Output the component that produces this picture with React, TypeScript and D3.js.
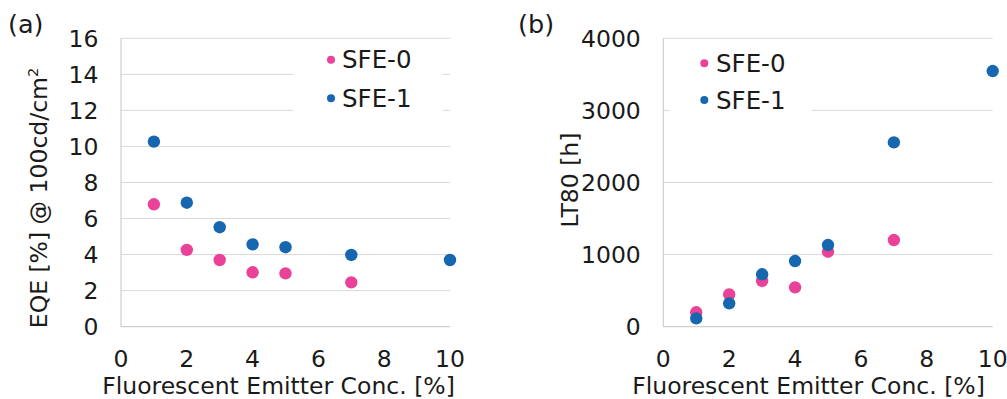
import React from "react";
import * as d3 from "d3";

const conc = [1, 2, 3, 4, 5, 7, 10];
const eqeSFE0 = [6.79, 4.26, 3.7, 3.02, 2.96, 2.46];
const eqeSFE1 = [10.27, 6.88, 5.52, 4.57, 4.41, 3.98, 3.7];
const ltSFE0 = [200, 449, 634, 546, 1040, 1202];
const ltSFE1 = [116, 324, 727, 911, 1133, 2557, 3546];
const xTicks = [0, 2, 4, 6, 8, 10];
const eqeTicks = [0, 2, 4, 6, 8, 10, 12, 14, 16];
const ltTicks = [0, 1000, 2000, 3000, 4000];
const seriesNames = ["SFE-0", "SFE-1"];

const PINK = "#EA4199";
const BLUE = "#1766B0";
const TEXT = "#1a1a1a";
const GRID = "#d9d9d9";
const AXIS = "#cfcfcf";
const FONT = "'DejaVu Sans', Verdana, sans-serif";
const FS = 23.5;
const FS_LEG = 24.5;

type PanelProps = {
  left: number;
  right: number;
  yMax: number;
  yTicks: number[];
  s0: number[];
  s1: number[];
  yTitle: React.ReactNode;
  yTitleX: number;
  yTitleY: number;
  xTitleX: number;
  label: string;
  labelX: number;
  legend: { x0: number; x1: number; y0: number; y1: number; mx: number; tx: number; b0: number; b1: number };
};

function Panel(p: PanelProps) {
  const top = 38.3;
  const bottom = 326.7;
  const x = d3.scaleLinear().domain([0, 10]).range([p.left, p.right]);
  const y = d3.scaleLinear().domain([0, p.yMax]).range([bottom, top]);
  return (
    <g>
      <text x={p.labelX} y={33} fontSize={25.5} fill={TEXT} fontFamily={FONT}>{p.label}</text>
      {p.yTicks.filter((t) => t > 0).map((t) => (
        <line key={"g" + t} x1={x(0)} x2={x(10)} y1={y(t)} y2={y(t)} stroke={GRID} strokeWidth={1} />
      ))}
      <line x1={x(0)} x2={x(10)} y1={y(0)} y2={y(0)} stroke={AXIS} strokeWidth={1.2} />
      <line x1={x(0)} x2={x(0)} y1={y(0)} y2={y(p.yMax)} stroke={AXIS} strokeWidth={1.2} />
      <rect x={p.legend.x0} y={p.legend.y0} width={p.legend.x1 - p.legend.x0} height={p.legend.y1 - p.legend.y0} fill="#fff" />
      {p.yTicks.map((t) => (
        <text key={"yt" + t} x={x(0) - 22.5} y={y(t)} dy="0.36em" textAnchor="end" fontSize={FS} fill={TEXT} fontFamily={FONT}>{t}</text>
      ))}
      {xTicks.map((t) => (
        <text key={"xt" + t} x={x(t)} y={367} textAnchor="middle" fontSize={FS} fill={TEXT} fontFamily={FONT}>{t}</text>
      ))}
      <text x={p.xTitleX} y={393.5} textAnchor="middle" fontSize={FS} fill={TEXT} fontFamily={FONT}>Fluorescent Emitter Conc. [%]</text>
      <text transform={`translate(${p.yTitleX},${p.yTitleY}) rotate(-90)`} textAnchor="middle" fontSize={FS} fill={TEXT} fontFamily={FONT}>{p.yTitle}</text>
      {p.s0.map((v, i) => (
        <circle key={"a" + i} cx={x(conc[i])} cy={y(v)} r={6.2} fill={PINK} />
      ))}
      {p.s1.map((v, i) => (
        <circle key={"b" + i} cx={x(conc[i])} cy={y(v)} r={6.2} fill={BLUE} />
      ))}
      {seriesNames.map((n, i) => (
        <g key={n}>
          <circle cx={p.legend.mx} cy={(i === 0 ? p.legend.b0 : p.legend.b1) - 8.5} r={4} fill={i === 0 ? PINK : BLUE} />
          <text x={p.legend.tx} y={i === 0 ? p.legend.b0 : p.legend.b1} fontSize={FS_LEG} fill={TEXT} fontFamily={FONT}>{n}</text>
        </g>
      ))}
    </g>
  );
}

export default function App() {
  return (
    <svg width={1007} height={399} style={{ position: "absolute", left: 0, top: 0, background: "#fff" }}>
      <rect width={1007} height={399} fill="#fff" />
      <Panel
        left={121}
        right={450}
        yMax={16}
        yTicks={eqeTicks}
        s0={eqeSFE0}
        s1={eqeSFE1}
        yTitle={<>EQE [%] @ 100cd/cm<tspan fontSize={14.5} dy={-9.5}>2</tspan></>}
        yTitleX={47}
        yTitleY={198}
        xTitleX={278.5}
        label="(a)"
        labelX={8}
        legend={{ x0: 293, x1: 443, y0: 42, y1: 115, mx: 331, tx: 342, b0: 68.3, b1: 106.7 }}
      />
      <Panel
        left={663.3}
        right={992.7}
        yMax={4000}
        yTicks={ltTicks}
        s0={ltSFE0}
        s1={ltSFE1}
        yTitle="LT80 [h]"
        yTitleX={578}
        yTitleY={180}
        xTitleX={808.5}
        label="(b)"
        labelX={518}
        legend={{ x0: 670, x1: 812, y0: 42, y1: 118, mx: 704.3, tx: 716, b0: 71.7, b1: 108.5 }}
      />
    </svg>
  );
}
